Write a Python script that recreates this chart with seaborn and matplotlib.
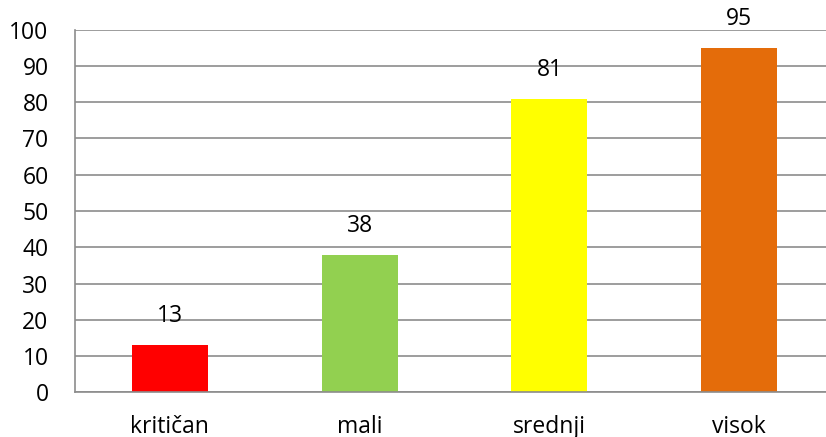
import matplotlib
matplotlib.use("Agg")
import matplotlib.pyplot as plt
import seaborn as sns
import pandas as pd

# Data
categories = ["kritičan", "mali", "srednji", "visok"]
values = [13, 38, 81, 95]
bar_colors = ["#FF0000", "#92D050", "#FFFF00", "#E46C0A"]

df = pd.DataFrame({"category": categories, "value": values})

sns.set_style("white")
plt.rcParams["font.family"] = ["Open Sans", "DejaVu Sans"]

W, H = 826, 437
fig = plt.figure(figsize=(W / 100, H / 100), dpi=100)
# axes run slightly past the right edge, as in the reference (cropped)
left, right, top, bottom = 75, 834, 29.7, 392.3
ax = fig.add_axes([left / W, 1 - bottom / H, (right - left) / W, (bottom - top) / H])

sns.barplot(data=df, x="category", y="value", hue="category",
            palette=bar_colors, width=0.4, legend=False, ax=ax,
            saturation=1, edgecolor="none")

ax.set_xlim(-0.5, len(categories) - 0.5)
ax.set_ylim(0, 100)
ax.set_yticks(range(0, 101, 10))

# gridlines
grid_color = "#8C8C8C"
ax.set_axisbelow(True)
ax.yaxis.grid(True, color=grid_color, linewidth=1.2)
ax.xaxis.grid(False)

for side in ["top", "right"]:
    ax.spines[side].set_visible(False)
for side in ["left", "bottom"]:
    ax.spines[side].set_color(grid_color)
    ax.spines[side].set_linewidth(1.2)

fs = 16.5

# x tick marks between categories, labels centred
ax.set_xticks([i - 0.5 for i in range(len(categories) + 1)], minor=False)
ax.set_xticklabels([])
ax.set_xticks(range(len(categories)), minor=True)
ax.set_xticklabels(categories, minor=True)
ax.tick_params(axis="x", which="major", direction="out", length=6,
               color=grid_color, width=1.2)
ax.tick_params(axis="x", which="minor", length=0, pad=16, labelsize=fs,
               labelcolor="black")
ax.tick_params(axis="y", direction="out", length=6, color=grid_color,
               width=1.2, pad=13, labelsize=fs, labelcolor="black")

ax.set_xlabel("")
ax.set_ylabel("")

# value labels above bars
for i, v in enumerate(values):
    ax.annotate(str(v), (i, v), xytext=(0, 12), textcoords="offset points",
                ha="center", va="bottom", fontsize=fs, color="black")

fig.savefig("out.png", dpi=100)
